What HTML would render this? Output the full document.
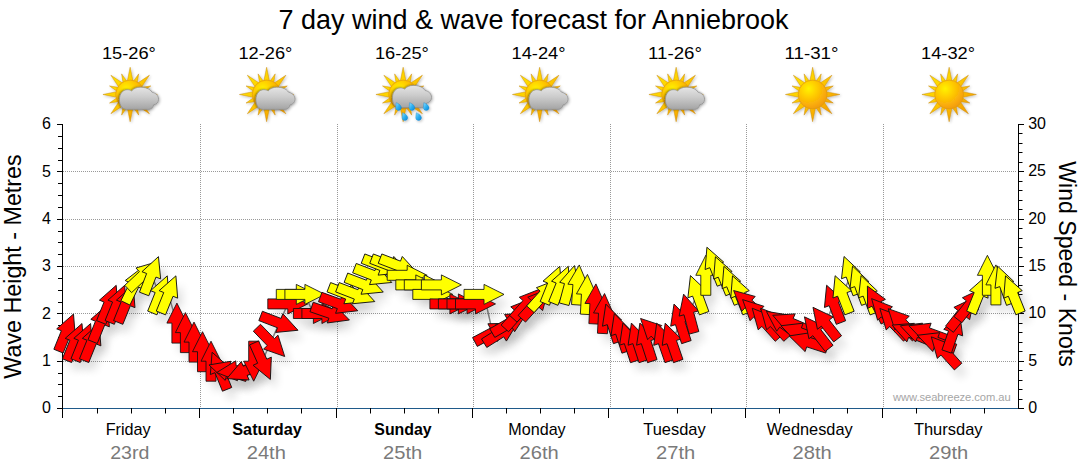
<!DOCTYPE html><html><head><meta charset="utf-8"><title>7 day wind &amp; wave forecast</title>
<style>html,body{margin:0;padding:0;background:#fff}body{width:1080px;height:475px;overflow:hidden;font-family:"Liberation Sans",sans-serif}svg{display:block}text{font-family:"Liberation Sans",sans-serif}</style></head><body>
<svg width="1080" height="475" viewBox="0 0 1080 475">
<defs><filter id="sh" x="-100%" y="-100%" width="300%" height="300%"><feGaussianBlur in="SourceAlpha" stdDeviation="4"/><feOffset dx="6" dy="9"/><feComponentTransfer><feFuncA type="linear" slope="0.11"/></feComponentTransfer></filter></defs>
<rect width="1080" height="475" fill="#fff"/>
<text x="278.5" y="29.2" font-size="27.3" fill="#000" textLength="510" lengthAdjust="spacingAndGlyphs">7 day wind &amp; wave forecast for Anniebrook</text>
<text x="101.9" y="59" font-size="16" fill="#000" textLength="54" lengthAdjust="spacingAndGlyphs">15-26°</text>
<text x="238.4" y="59" font-size="16" fill="#000" textLength="54" lengthAdjust="spacingAndGlyphs">12-26°</text>
<text x="374.9" y="59" font-size="16" fill="#000" textLength="54" lengthAdjust="spacingAndGlyphs">16-25°</text>
<text x="511.5" y="59" font-size="16" fill="#000" textLength="54" lengthAdjust="spacingAndGlyphs">14-24°</text>
<text x="648.0" y="59" font-size="16" fill="#000" textLength="54" lengthAdjust="spacingAndGlyphs">11-26°</text>
<text x="784.5" y="59" font-size="16" fill="#000" textLength="54" lengthAdjust="spacingAndGlyphs">11-31°</text>
<text x="921.0" y="59" font-size="16" fill="#000" textLength="54" lengthAdjust="spacingAndGlyphs">14-32°</text>
<defs>
<radialGradient id="sd" cx="0.36" cy="0.3" r="0.75"><stop offset="0" stop-color="#fff200"/><stop offset="0.35" stop-color="#ffd000"/><stop offset="0.8" stop-color="#f9a80a"/><stop offset="1" stop-color="#ee9a10"/></radialGradient>
<linearGradient id="sr" gradientUnits="userSpaceOnUse" x1="-20" y1="-20" x2="20" y2="20"><stop offset="0" stop-color="#ffe600"/><stop offset="0.5" stop-color="#fdc400"/><stop offset="1" stop-color="#f39a00"/></linearGradient>
<linearGradient id="cl" gradientUnits="userSpaceOnUse" x1="0" y1="-8" x2="0" y2="15"><stop offset="0" stop-color="#e6e6e6"/><stop offset="0.45" stop-color="#cccccc"/><stop offset="1" stop-color="#a4a4a4"/></linearGradient>
<linearGradient id="dr" x1="0" y1="0" x2="1" y2="1"><stop offset="0" stop-color="#8fe0ff"/><stop offset="0.5" stop-color="#2fb0f0"/><stop offset="1" stop-color="#0a86d8"/></linearGradient>
<filter id="ish" x="-30%" y="-30%" width="160%" height="160%"><feGaussianBlur in="SourceAlpha" stdDeviation="1.6"/><feOffset dx="0.8" dy="1"/><feComponentTransfer><feFuncA type="linear" slope="0.28"/></feComponentTransfer><feMerge><feMergeNode/><feMergeNode in="SourceGraphic"/></feMerge></filter>
<filter id="csh" x="-30%" y="-30%" width="160%" height="160%"><feGaussianBlur in="SourceAlpha" stdDeviation="1.1"/><feOffset dx="-0.7" dy="0.2"/><feComponentTransfer><feFuncA type="linear" slope="0.45"/></feComponentTransfer><feMerge><feMergeNode/><feMergeNode in="SourceGraphic"/></feMerge></filter>
<g id="sun">
<path fill="url(#sr)" stroke="#c98a10" stroke-width="0.5" stroke-linejoin="round" d="M-3.09,-12.11 L0.00,-27.20 L3.09,-12.11 Z M2.52,-12.24 L8.53,-20.60 L6.88,-10.44 Z M6.38,-10.75 L19.23,-19.23 L10.75,-6.38 Z M10.44,-6.88 L20.60,-8.53 L12.24,-2.52 Z M12.11,-3.09 L27.20,0.00 L12.11,3.09 Z M12.24,2.52 L20.60,8.53 L10.44,6.88 Z M10.75,6.38 L19.23,19.23 L6.38,10.75 Z M6.88,10.44 L8.53,20.60 L2.52,12.24 Z M3.09,12.11 L0.00,27.20 L-3.09,12.11 Z M-2.52,12.24 L-8.53,20.60 L-6.88,10.44 Z M-6.38,10.75 L-19.23,19.23 L-10.75,6.38 Z M-10.44,6.88 L-20.60,8.53 L-12.24,2.52 Z M-12.11,3.09 L-27.20,0.00 L-12.11,-3.09 Z M-12.24,-2.52 L-20.60,-8.53 L-10.44,-6.88 Z M-10.75,-6.38 L-19.23,-19.23 L-6.38,-10.75 Z M-6.88,-10.44 L-8.53,-20.60 L-2.52,-12.24 Z"/>
<circle r="14.4" fill="url(#sd)" stroke="#e09a10" stroke-width="0.7"/>
</g>
<path id="cloud" fill="url(#cl)" stroke="#8e8e8e" stroke-width="0.7" d="M-3,14.9 C-8,14.9 -10.7,11 -10.7,5 C-10.7,-1 -7,-4.8 -3,-4.8 C-1,-4.8 0.5,-4.3 1.5,-3.6 C3.5,-6 6.5,-7.3 10,-7.3 C15,-7.3 19.5,-6 22,-2.2 C25.5,-1.5 28.4,1 28.4,4.8 C28.4,8 26,10 23.5,10.3 C23,13 21,14.9 18.5,14.9 Z"/>
<path id="drop" fill="url(#dr)" stroke="#0b7fcc" stroke-width="0.4" d="M-2.6,-4 C-0.5,-3.6 3.2,-0.8 3.2,1.6 C3.2,3.4 1.8,4.6 0.1,4.6 C-1.9,4.6 -3.2,3.2 -3.1,1.2 C-3.0,-0.6 -2.8,-2.4 -2.6,-4 Z"/>
</defs>
<g transform="translate(130.15,94.50)" filter="url(#ish)"><use href="#sun"/><g filter="url(#csh)"><use href="#cloud" transform="translate(0,0)"/></g></g>
<g transform="translate(266.65,94.50)" filter="url(#ish)"><use href="#sun"/><g filter="url(#csh)"><use href="#cloud" transform="translate(0,0)"/></g></g>
<g transform="translate(403.15,94.50)" filter="url(#ish)"><use href="#sun"/><g filter="url(#csh)"><use href="#cloud" transform="translate(0,-1.8)"/></g><use href="#drop" transform="translate(-4.6,11.8) scale(0.9)"/><use href="#drop" transform="translate(8.8,11.8) scale(0.9)"/><use href="#drop" transform="translate(23.0,11.8) scale(0.9)"/><use href="#drop" transform="translate(1.7,21.8) scale(0.9)"/><use href="#drop" transform="translate(15.4,21.8) scale(0.9)"/></g>
<g transform="translate(539.65,94.50)" filter="url(#ish)"><use href="#sun"/><g filter="url(#csh)"><use href="#cloud" transform="translate(0,0)"/></g></g>
<g transform="translate(676.15,94.50)" filter="url(#ish)"><use href="#sun"/><g filter="url(#csh)"><use href="#cloud" transform="translate(0,0)"/></g></g>
<g transform="translate(812.65,94.50)" filter="url(#ish)"><use href="#sun"/></g>
<g transform="translate(949.15,94.50)" filter="url(#ish)"><use href="#sun"/></g>
<line x1="63" x2="1016" y1="361.5" y2="361.5" stroke="#999" stroke-width="1" stroke-dasharray="1 1"/>
<line x1="63" x2="1016" y1="313.5" y2="313.5" stroke="#999" stroke-width="1" stroke-dasharray="1 1"/>
<line x1="63" x2="1016" y1="266.5" y2="266.5" stroke="#999" stroke-width="1" stroke-dasharray="1 1"/>
<line x1="63" x2="1016" y1="219.5" y2="219.5" stroke="#999" stroke-width="1" stroke-dasharray="1 1"/>
<line x1="63" x2="1016" y1="171.5" y2="171.5" stroke="#999" stroke-width="1" stroke-dasharray="1 1"/>
<line x1="200.5" x2="200.5" y1="124" y2="408" stroke="#999" stroke-width="1" stroke-dasharray="1 1"/>
<line x1="337.5" x2="337.5" y1="124" y2="408" stroke="#999" stroke-width="1" stroke-dasharray="1 1"/>
<line x1="473.5" x2="473.5" y1="124" y2="408" stroke="#999" stroke-width="1" stroke-dasharray="1 1"/>
<line x1="610.5" x2="610.5" y1="124" y2="408" stroke="#999" stroke-width="1" stroke-dasharray="1 1"/>
<line x1="746.5" x2="746.5" y1="124" y2="408" stroke="#999" stroke-width="1" stroke-dasharray="1 1"/>
<line x1="883.5" x2="883.5" y1="124" y2="408" stroke="#999" stroke-width="1" stroke-dasharray="1 1"/>
<line x1="62.5" x2="62.5" y1="124" y2="409" stroke="#000" stroke-width="1"/>
<line x1="1018.5" x2="1018.5" y1="124" y2="409" stroke="#000" stroke-width="1"/>
<line x1="62" x2="1019" y1="408.5" y2="408.5" stroke="#1f5a8a" stroke-width="1.2"/>
<line x1="57" x2="63" y1="408.5" y2="408.5" stroke="#000" stroke-width="1"/>
<line x1="58" x2="63" y1="396.5" y2="396.5" stroke="#000" stroke-width="1"/>
<line x1="58" x2="63" y1="384.5" y2="384.5" stroke="#000" stroke-width="1"/>
<line x1="58" x2="63" y1="373.5" y2="373.5" stroke="#000" stroke-width="1"/>
<line x1="57" x2="63" y1="361.5" y2="361.5" stroke="#000" stroke-width="1"/>
<line x1="58" x2="63" y1="349.5" y2="349.5" stroke="#000" stroke-width="1"/>
<line x1="58" x2="63" y1="337.5" y2="337.5" stroke="#000" stroke-width="1"/>
<line x1="58" x2="63" y1="325.5" y2="325.5" stroke="#000" stroke-width="1"/>
<line x1="57" x2="63" y1="313.5" y2="313.5" stroke="#000" stroke-width="1"/>
<line x1="58" x2="63" y1="302.5" y2="302.5" stroke="#000" stroke-width="1"/>
<line x1="58" x2="63" y1="290.5" y2="290.5" stroke="#000" stroke-width="1"/>
<line x1="58" x2="63" y1="278.5" y2="278.5" stroke="#000" stroke-width="1"/>
<line x1="57" x2="63" y1="266.5" y2="266.5" stroke="#000" stroke-width="1"/>
<line x1="58" x2="63" y1="254.5" y2="254.5" stroke="#000" stroke-width="1"/>
<line x1="58" x2="63" y1="242.5" y2="242.5" stroke="#000" stroke-width="1"/>
<line x1="58" x2="63" y1="231.5" y2="231.5" stroke="#000" stroke-width="1"/>
<line x1="57" x2="63" y1="219.5" y2="219.5" stroke="#000" stroke-width="1"/>
<line x1="58" x2="63" y1="207.5" y2="207.5" stroke="#000" stroke-width="1"/>
<line x1="58" x2="63" y1="195.5" y2="195.5" stroke="#000" stroke-width="1"/>
<line x1="58" x2="63" y1="183.5" y2="183.5" stroke="#000" stroke-width="1"/>
<line x1="57" x2="63" y1="171.5" y2="171.5" stroke="#000" stroke-width="1"/>
<line x1="58" x2="63" y1="160.5" y2="160.5" stroke="#000" stroke-width="1"/>
<line x1="58" x2="63" y1="148.5" y2="148.5" stroke="#000" stroke-width="1"/>
<line x1="58" x2="63" y1="136.5" y2="136.5" stroke="#000" stroke-width="1"/>
<line x1="57" x2="63" y1="124.5" y2="124.5" stroke="#000" stroke-width="1"/>
<text x="51" y="413.2" font-size="16" text-anchor="end" fill="#000">0</text>
<text x="51" y="365.9" font-size="16" text-anchor="end" fill="#000">1</text>
<text x="51" y="318.5" font-size="16" text-anchor="end" fill="#000">2</text>
<text x="51" y="271.2" font-size="16" text-anchor="end" fill="#000">3</text>
<text x="51" y="223.9" font-size="16" text-anchor="end" fill="#000">4</text>
<text x="51" y="176.5" font-size="16" text-anchor="end" fill="#000">5</text>
<text x="51" y="129.2" font-size="16" text-anchor="end" fill="#000">6</text>
<line x1="1018" x2="1024" y1="408.5" y2="408.5" stroke="#000" stroke-width="1"/>
<line x1="1018" x2="1022.5" y1="399.5" y2="399.5" stroke="#000" stroke-width="1"/>
<line x1="1018" x2="1022.5" y1="389.5" y2="389.5" stroke="#000" stroke-width="1"/>
<line x1="1018" x2="1022.5" y1="380.5" y2="380.5" stroke="#000" stroke-width="1"/>
<line x1="1018" x2="1022.5" y1="370.5" y2="370.5" stroke="#000" stroke-width="1"/>
<line x1="1018" x2="1024" y1="361.5" y2="361.5" stroke="#000" stroke-width="1"/>
<line x1="1018" x2="1022.5" y1="351.5" y2="351.5" stroke="#000" stroke-width="1"/>
<line x1="1018" x2="1022.5" y1="342.5" y2="342.5" stroke="#000" stroke-width="1"/>
<line x1="1018" x2="1022.5" y1="332.5" y2="332.5" stroke="#000" stroke-width="1"/>
<line x1="1018" x2="1022.5" y1="323.5" y2="323.5" stroke="#000" stroke-width="1"/>
<line x1="1018" x2="1024" y1="313.5" y2="313.5" stroke="#000" stroke-width="1"/>
<line x1="1018" x2="1022.5" y1="304.5" y2="304.5" stroke="#000" stroke-width="1"/>
<line x1="1018" x2="1022.5" y1="294.5" y2="294.5" stroke="#000" stroke-width="1"/>
<line x1="1018" x2="1022.5" y1="285.5" y2="285.5" stroke="#000" stroke-width="1"/>
<line x1="1018" x2="1022.5" y1="275.5" y2="275.5" stroke="#000" stroke-width="1"/>
<line x1="1018" x2="1024" y1="266.5" y2="266.5" stroke="#000" stroke-width="1"/>
<line x1="1018" x2="1022.5" y1="257.5" y2="257.5" stroke="#000" stroke-width="1"/>
<line x1="1018" x2="1022.5" y1="247.5" y2="247.5" stroke="#000" stroke-width="1"/>
<line x1="1018" x2="1022.5" y1="238.5" y2="238.5" stroke="#000" stroke-width="1"/>
<line x1="1018" x2="1022.5" y1="228.5" y2="228.5" stroke="#000" stroke-width="1"/>
<line x1="1018" x2="1024" y1="219.5" y2="219.5" stroke="#000" stroke-width="1"/>
<line x1="1018" x2="1022.5" y1="209.5" y2="209.5" stroke="#000" stroke-width="1"/>
<line x1="1018" x2="1022.5" y1="200.5" y2="200.5" stroke="#000" stroke-width="1"/>
<line x1="1018" x2="1022.5" y1="190.5" y2="190.5" stroke="#000" stroke-width="1"/>
<line x1="1018" x2="1022.5" y1="181.5" y2="181.5" stroke="#000" stroke-width="1"/>
<line x1="1018" x2="1024" y1="171.5" y2="171.5" stroke="#000" stroke-width="1"/>
<line x1="1018" x2="1022.5" y1="162.5" y2="162.5" stroke="#000" stroke-width="1"/>
<line x1="1018" x2="1022.5" y1="152.5" y2="152.5" stroke="#000" stroke-width="1"/>
<line x1="1018" x2="1022.5" y1="143.5" y2="143.5" stroke="#000" stroke-width="1"/>
<line x1="1018" x2="1022.5" y1="133.5" y2="133.5" stroke="#000" stroke-width="1"/>
<line x1="1018" x2="1024" y1="124.5" y2="124.5" stroke="#000" stroke-width="1"/>
<text x="1028.2" y="413.0" font-size="16" fill="#000">0</text>
<text x="1028.2" y="365.7" font-size="16" fill="#000">5</text>
<text x="1028.2" y="318.3" font-size="16" fill="#000">10</text>
<text x="1028.2" y="271.0" font-size="16" fill="#000">15</text>
<text x="1028.2" y="223.7" font-size="16" fill="#000">20</text>
<text x="1028.2" y="176.3" font-size="16" fill="#000">25</text>
<text x="1028.2" y="129.0" font-size="16" fill="#000">30</text>
<polyline fill="none" stroke="#888" stroke-width="1.5" points="66.0,332.6 74.5,342.1 83.1,342.1 91.6,342.1 100.1,323.1 108.7,303.9 117.2,303.9 125.7,303.9 134.2,284.9 142.8,275.3 151.3,275.3 159.8,294.4 168.4,294.4 176.9,323.1 185.4,332.6 194.0,342.1 202.5,351.7 211.0,361.2 219.6,370.8 228.1,370.8 236.6,370.8 245.2,370.8 253.7,361.2 262.2,361.2 270.8,342.1 279.3,323.1 287.8,303.9 296.3,294.4 304.9,294.4 313.4,313.5 321.9,313.5 330.5,313.5 339.0,303.9 347.5,294.4 356.1,294.4 364.6,284.9 373.1,275.3 381.7,265.8 390.2,265.8 398.7,265.8 407.2,275.3 415.8,284.9 424.3,284.9 432.8,294.4 441.4,284.9 449.9,303.9 458.4,303.9 467.0,303.9 475.5,303.9 484.0,294.4 492.6,332.6 501.1,332.6 509.6,323.1 518.2,313.5 526.7,303.9 535.2,303.9 543.8,294.4 552.3,284.9 560.8,284.9 569.3,284.9 577.9,284.9 586.4,294.4 594.9,303.9 603.5,313.5 612.0,323.1 620.5,332.6 629.1,342.1 637.6,342.1 646.1,342.1 654.7,332.6 663.2,342.1 671.7,342.1 680.2,323.1 688.8,313.5 697.3,294.4 705.8,275.3 714.4,265.8 722.9,275.3 731.4,284.9 740.0,294.4 748.5,303.9 757.0,313.5 765.6,323.1 774.1,323.1 782.6,323.1 791.2,323.1 799.7,332.6 808.2,342.1 816.8,332.6 825.3,323.1 833.8,303.9 842.3,294.4 850.9,275.3 859.4,284.9 867.9,294.4 876.5,303.9 885.0,313.5 893.5,323.1 902.1,323.1 910.6,332.6 919.1,332.6 927.7,332.6 936.2,342.1 944.7,351.7 953.2,332.6 961.8,313.5 970.3,303.9 978.8,294.4 987.4,275.3 995.9,284.9 1004.4,284.9 1013.0,294.4"/>
<defs><path id="ar" d="M-20,-5 L0,-5 L0,-10 L20,0 L0,10 L0,5 L-20,5 Z"/></defs>
<g fill="#000">
<g filter="url(#sh)"><use href="#ar" transform="translate(66.0,332.6) rotate(-68)"/></g>
<g filter="url(#sh)"><use href="#ar" transform="translate(74.5,342.1) rotate(-68)"/></g>
<g filter="url(#sh)"><use href="#ar" transform="translate(83.1,342.1) rotate(-68)"/></g>
<g filter="url(#sh)"><use href="#ar" transform="translate(91.6,342.1) rotate(-68)"/></g>
<g filter="url(#sh)"><use href="#ar" transform="translate(100.1,323.1) rotate(-68)"/></g>
<g filter="url(#sh)"><use href="#ar" transform="translate(108.7,303.9) rotate(-68)"/></g>
<g filter="url(#sh)"><use href="#ar" transform="translate(117.2,303.9) rotate(-68)"/></g>
<g filter="url(#sh)"><use href="#ar" transform="translate(125.7,303.9) rotate(-68)"/></g>
<g filter="url(#sh)"><use href="#ar" transform="translate(134.2,284.9) rotate(-64)"/></g>
<g filter="url(#sh)"><use href="#ar" transform="translate(142.8,275.3) rotate(-43)"/></g>
<g filter="url(#sh)"><use href="#ar" transform="translate(151.3,275.3) rotate(-69)"/></g>
<g filter="url(#sh)"><use href="#ar" transform="translate(159.8,294.4) rotate(-68)"/></g>
<g filter="url(#sh)"><use href="#ar" transform="translate(168.4,294.4) rotate(-68)"/></g>
<g filter="url(#sh)"><use href="#ar" transform="translate(176.9,323.1) rotate(-90)"/></g>
<g filter="url(#sh)"><use href="#ar" transform="translate(185.4,332.6) rotate(-90)"/></g>
<g filter="url(#sh)"><use href="#ar" transform="translate(194.0,342.1) rotate(-90)"/></g>
<g filter="url(#sh)"><use href="#ar" transform="translate(202.5,351.7) rotate(-90)"/></g>
<g filter="url(#sh)"><use href="#ar" transform="translate(211.0,361.2) rotate(-90)"/></g>
<g filter="url(#sh)"><use href="#ar" transform="translate(219.6,370.8) rotate(-112)"/></g>
<g filter="url(#sh)"><use href="#ar" transform="translate(228.1,370.8) rotate(-163)"/></g>
<g filter="url(#sh)"><use href="#ar" transform="translate(236.6,370.8) rotate(-185)"/></g>
<g filter="url(#sh)"><use href="#ar" transform="translate(245.2,370.8) rotate(-203)"/></g>
<g filter="url(#sh)"><use href="#ar" transform="translate(253.7,361.2) rotate(90)"/></g>
<g filter="url(#sh)"><use href="#ar" transform="translate(262.2,361.2) rotate(66)"/></g>
<g filter="url(#sh)"><use href="#ar" transform="translate(270.8,342.1) rotate(46)"/></g>
<g filter="url(#sh)"><use href="#ar" transform="translate(279.3,323.1) rotate(21)"/></g>
<g filter="url(#sh)"><use href="#ar" transform="translate(287.8,303.9) rotate(0)"/></g>
<g filter="url(#sh)"><use href="#ar" transform="translate(296.3,294.4) rotate(0)"/></g>
<g filter="url(#sh)"><use href="#ar" transform="translate(304.9,294.4) rotate(0)"/></g>
<g filter="url(#sh)"><use href="#ar" transform="translate(313.4,313.5) rotate(0)"/></g>
<g filter="url(#sh)"><use href="#ar" transform="translate(321.9,313.5) rotate(0)"/></g>
<g filter="url(#sh)"><use href="#ar" transform="translate(330.5,313.5) rotate(19)"/></g>
<g filter="url(#sh)"><use href="#ar" transform="translate(339.0,303.9) rotate(20)"/></g>
<g filter="url(#sh)"><use href="#ar" transform="translate(347.5,294.4) rotate(21)"/></g>
<g filter="url(#sh)"><use href="#ar" transform="translate(356.1,294.4) rotate(21)"/></g>
<g filter="url(#sh)"><use href="#ar" transform="translate(364.6,284.9) rotate(21)"/></g>
<g filter="url(#sh)"><use href="#ar" transform="translate(373.1,275.3) rotate(21)"/></g>
<g filter="url(#sh)"><use href="#ar" transform="translate(381.7,265.8) rotate(21)"/></g>
<g filter="url(#sh)"><use href="#ar" transform="translate(390.2,265.8) rotate(21)"/></g>
<g filter="url(#sh)"><use href="#ar" transform="translate(398.7,265.8) rotate(21)"/></g>
<g filter="url(#sh)"><use href="#ar" transform="translate(407.2,275.3) rotate(0)"/></g>
<g filter="url(#sh)"><use href="#ar" transform="translate(415.8,284.9) rotate(0)"/></g>
<g filter="url(#sh)"><use href="#ar" transform="translate(424.3,284.9) rotate(0)"/></g>
<g filter="url(#sh)"><use href="#ar" transform="translate(432.8,294.4) rotate(0)"/></g>
<g filter="url(#sh)"><use href="#ar" transform="translate(441.4,284.9) rotate(0)"/></g>
<g filter="url(#sh)"><use href="#ar" transform="translate(449.9,303.9) rotate(0)"/></g>
<g filter="url(#sh)"><use href="#ar" transform="translate(458.4,303.9) rotate(0)"/></g>
<g filter="url(#sh)"><use href="#ar" transform="translate(467.0,303.9) rotate(0)"/></g>
<g filter="url(#sh)"><use href="#ar" transform="translate(475.5,303.9) rotate(0)"/></g>
<g filter="url(#sh)"><use href="#ar" transform="translate(484.0,294.4) rotate(0)"/></g>
<g filter="url(#sh)"><use href="#ar" transform="translate(492.6,332.6) rotate(-28)"/></g>
<g filter="url(#sh)"><use href="#ar" transform="translate(501.1,332.6) rotate(-32)"/></g>
<g filter="url(#sh)"><use href="#ar" transform="translate(509.6,323.1) rotate(-30)"/></g>
<g filter="url(#sh)"><use href="#ar" transform="translate(518.2,313.5) rotate(-48)"/></g>
<g filter="url(#sh)"><use href="#ar" transform="translate(526.7,303.9) rotate(-48)"/></g>
<g filter="url(#sh)"><use href="#ar" transform="translate(535.2,303.9) rotate(-48)"/></g>
<g filter="url(#sh)"><use href="#ar" transform="translate(543.8,294.4) rotate(-48)"/></g>
<g filter="url(#sh)"><use href="#ar" transform="translate(552.3,284.9) rotate(-68)"/></g>
<g filter="url(#sh)"><use href="#ar" transform="translate(560.8,284.9) rotate(-68)"/></g>
<g filter="url(#sh)"><use href="#ar" transform="translate(569.3,284.9) rotate(-75)"/></g>
<g filter="url(#sh)"><use href="#ar" transform="translate(577.9,284.9) rotate(-86)"/></g>
<g filter="url(#sh)"><use href="#ar" transform="translate(586.4,294.4) rotate(-87)"/></g>
<g filter="url(#sh)"><use href="#ar" transform="translate(594.9,303.9) rotate(-87)"/></g>
<g filter="url(#sh)"><use href="#ar" transform="translate(603.5,313.5) rotate(-87)"/></g>
<g filter="url(#sh)"><use href="#ar" transform="translate(612.0,323.1) rotate(-108)"/></g>
<g filter="url(#sh)"><use href="#ar" transform="translate(620.5,332.6) rotate(-108)"/></g>
<g filter="url(#sh)"><use href="#ar" transform="translate(629.1,342.1) rotate(-108)"/></g>
<g filter="url(#sh)"><use href="#ar" transform="translate(637.6,342.1) rotate(-108)"/></g>
<g filter="url(#sh)"><use href="#ar" transform="translate(646.1,342.1) rotate(-108)"/></g>
<g filter="url(#sh)"><use href="#ar" transform="translate(654.7,332.6) rotate(-135)"/></g>
<g filter="url(#sh)"><use href="#ar" transform="translate(663.2,342.1) rotate(-109)"/></g>
<g filter="url(#sh)"><use href="#ar" transform="translate(671.7,342.1) rotate(-109)"/></g>
<g filter="url(#sh)"><use href="#ar" transform="translate(680.2,323.1) rotate(-108)"/></g>
<g filter="url(#sh)"><use href="#ar" transform="translate(688.8,313.5) rotate(-105)"/></g>
<g filter="url(#sh)"><use href="#ar" transform="translate(697.3,294.4) rotate(-110)"/></g>
<g filter="url(#sh)"><use href="#ar" transform="translate(705.8,275.3) rotate(-90)"/></g>
<g filter="url(#sh)"><use href="#ar" transform="translate(714.4,265.8) rotate(-112)"/></g>
<g filter="url(#sh)"><use href="#ar" transform="translate(722.9,275.3) rotate(-112)"/></g>
<g filter="url(#sh)"><use href="#ar" transform="translate(731.4,284.9) rotate(-112)"/></g>
<g filter="url(#sh)"><use href="#ar" transform="translate(740.0,294.4) rotate(-112)"/></g>
<g filter="url(#sh)"><use href="#ar" transform="translate(748.5,303.9) rotate(-138)"/></g>
<g filter="url(#sh)"><use href="#ar" transform="translate(757.0,313.5) rotate(-136)"/></g>
<g filter="url(#sh)"><use href="#ar" transform="translate(765.6,323.1) rotate(-132)"/></g>
<g filter="url(#sh)"><use href="#ar" transform="translate(774.1,323.1) rotate(-132)"/></g>
<g filter="url(#sh)"><use href="#ar" transform="translate(782.6,323.1) rotate(-144)"/></g>
<g filter="url(#sh)"><use href="#ar" transform="translate(791.2,323.1) rotate(-157)"/></g>
<g filter="url(#sh)"><use href="#ar" transform="translate(799.7,332.6) rotate(-160)"/></g>
<g filter="url(#sh)"><use href="#ar" transform="translate(808.2,342.1) rotate(-162)"/></g>
<g filter="url(#sh)"><use href="#ar" transform="translate(816.8,332.6) rotate(-128)"/></g>
<g filter="url(#sh)"><use href="#ar" transform="translate(825.3,323.1) rotate(-128)"/></g>
<g filter="url(#sh)"><use href="#ar" transform="translate(833.8,303.9) rotate(-111)"/></g>
<g filter="url(#sh)"><use href="#ar" transform="translate(842.3,294.4) rotate(-111)"/></g>
<g filter="url(#sh)"><use href="#ar" transform="translate(850.9,275.3) rotate(-110)"/></g>
<g filter="url(#sh)"><use href="#ar" transform="translate(859.4,284.9) rotate(-110)"/></g>
<g filter="url(#sh)"><use href="#ar" transform="translate(867.9,294.4) rotate(-110)"/></g>
<g filter="url(#sh)"><use href="#ar" transform="translate(876.5,303.9) rotate(-117)"/></g>
<g filter="url(#sh)"><use href="#ar" transform="translate(885.0,313.5) rotate(-132)"/></g>
<g filter="url(#sh)"><use href="#ar" transform="translate(893.5,323.1) rotate(-133)"/></g>
<g filter="url(#sh)"><use href="#ar" transform="translate(902.1,323.1) rotate(-134)"/></g>
<g filter="url(#sh)"><use href="#ar" transform="translate(910.6,332.6) rotate(-158)"/></g>
<g filter="url(#sh)"><use href="#ar" transform="translate(919.1,332.6) rotate(-160)"/></g>
<g filter="url(#sh)"><use href="#ar" transform="translate(927.7,332.6) rotate(-160)"/></g>
<g filter="url(#sh)"><use href="#ar" transform="translate(936.2,342.1) rotate(-160)"/></g>
<g filter="url(#sh)"><use href="#ar" transform="translate(944.7,351.7) rotate(-132)"/></g>
<g filter="url(#sh)"><use href="#ar" transform="translate(953.2,332.6) rotate(-71)"/></g>
<g filter="url(#sh)"><use href="#ar" transform="translate(961.8,313.5) rotate(-52)"/></g>
<g filter="url(#sh)"><use href="#ar" transform="translate(970.3,303.9) rotate(-52)"/></g>
<g filter="url(#sh)"><use href="#ar" transform="translate(978.8,294.4) rotate(-68)"/></g>
<g filter="url(#sh)"><use href="#ar" transform="translate(987.4,275.3) rotate(-90)"/></g>
<g filter="url(#sh)"><use href="#ar" transform="translate(995.9,284.9) rotate(-90)"/></g>
<g filter="url(#sh)"><use href="#ar" transform="translate(1004.4,284.9) rotate(-110)"/></g>
<g filter="url(#sh)"><use href="#ar" transform="translate(1013.0,294.4) rotate(-112)"/></g>
</g>
<g stroke="#111" stroke-width="0.85" stroke-linejoin="miter">
<use href="#ar" fill="#f00" transform="translate(66.0,332.6) rotate(-68)"/>
<use href="#ar" fill="#f00" transform="translate(74.5,342.1) rotate(-68)"/>
<use href="#ar" fill="#f00" transform="translate(83.1,342.1) rotate(-68)"/>
<use href="#ar" fill="#f00" transform="translate(91.6,342.1) rotate(-68)"/>
<use href="#ar" fill="#f00" transform="translate(100.1,323.1) rotate(-68)"/>
<use href="#ar" fill="#f00" transform="translate(108.7,303.9) rotate(-68)"/>
<use href="#ar" fill="#f00" transform="translate(117.2,303.9) rotate(-68)"/>
<use href="#ar" fill="#f00" transform="translate(125.7,303.9) rotate(-68)"/>
<use href="#ar" fill="#ff0" transform="translate(134.2,284.9) rotate(-64)"/>
<use href="#ar" fill="#ff0" transform="translate(142.8,275.3) rotate(-43)"/>
<use href="#ar" fill="#ff0" transform="translate(151.3,275.3) rotate(-69)"/>
<use href="#ar" fill="#ff0" transform="translate(159.8,294.4) rotate(-68)"/>
<use href="#ar" fill="#ff0" transform="translate(168.4,294.4) rotate(-68)"/>
<use href="#ar" fill="#f00" transform="translate(176.9,323.1) rotate(-90)"/>
<use href="#ar" fill="#f00" transform="translate(185.4,332.6) rotate(-90)"/>
<use href="#ar" fill="#f00" transform="translate(194.0,342.1) rotate(-90)"/>
<use href="#ar" fill="#f00" transform="translate(202.5,351.7) rotate(-90)"/>
<use href="#ar" fill="#f00" transform="translate(211.0,361.2) rotate(-90)"/>
<use href="#ar" fill="#f00" transform="translate(219.6,370.8) rotate(-112)"/>
<use href="#ar" fill="#f00" transform="translate(228.1,370.8) rotate(-163)"/>
<use href="#ar" fill="#f00" transform="translate(236.6,370.8) rotate(-185)"/>
<use href="#ar" fill="#f00" transform="translate(245.2,370.8) rotate(-203)"/>
<use href="#ar" fill="#f00" transform="translate(253.7,361.2) rotate(90)"/>
<use href="#ar" fill="#f00" transform="translate(262.2,361.2) rotate(66)"/>
<use href="#ar" fill="#f00" transform="translate(270.8,342.1) rotate(46)"/>
<use href="#ar" fill="#f00" transform="translate(279.3,323.1) rotate(21)"/>
<use href="#ar" fill="#f00" transform="translate(287.8,303.9) rotate(0)"/>
<use href="#ar" fill="#ff0" transform="translate(296.3,294.4) rotate(0)"/>
<use href="#ar" fill="#ff0" transform="translate(304.9,294.4) rotate(0)"/>
<use href="#ar" fill="#f00" transform="translate(313.4,313.5) rotate(0)"/>
<use href="#ar" fill="#f00" transform="translate(321.9,313.5) rotate(0)"/>
<use href="#ar" fill="#f00" transform="translate(330.5,313.5) rotate(19)"/>
<use href="#ar" fill="#f00" transform="translate(339.0,303.9) rotate(20)"/>
<use href="#ar" fill="#ff0" transform="translate(347.5,294.4) rotate(21)"/>
<use href="#ar" fill="#ff0" transform="translate(356.1,294.4) rotate(21)"/>
<use href="#ar" fill="#ff0" transform="translate(364.6,284.9) rotate(21)"/>
<use href="#ar" fill="#ff0" transform="translate(373.1,275.3) rotate(21)"/>
<use href="#ar" fill="#ff0" transform="translate(381.7,265.8) rotate(21)"/>
<use href="#ar" fill="#ff0" transform="translate(390.2,265.8) rotate(21)"/>
<use href="#ar" fill="#ff0" transform="translate(398.7,265.8) rotate(21)"/>
<use href="#ar" fill="#ff0" transform="translate(407.2,275.3) rotate(0)"/>
<use href="#ar" fill="#ff0" transform="translate(415.8,284.9) rotate(0)"/>
<use href="#ar" fill="#ff0" transform="translate(424.3,284.9) rotate(0)"/>
<use href="#ar" fill="#ff0" transform="translate(432.8,294.4) rotate(0)"/>
<use href="#ar" fill="#ff0" transform="translate(441.4,284.9) rotate(0)"/>
<use href="#ar" fill="#f00" transform="translate(449.9,303.9) rotate(0)"/>
<use href="#ar" fill="#f00" transform="translate(458.4,303.9) rotate(0)"/>
<use href="#ar" fill="#f00" transform="translate(467.0,303.9) rotate(0)"/>
<use href="#ar" fill="#f00" transform="translate(475.5,303.9) rotate(0)"/>
<use href="#ar" fill="#ff0" transform="translate(484.0,294.4) rotate(0)"/>
<use href="#ar" fill="#f00" transform="translate(492.6,332.6) rotate(-28)"/>
<use href="#ar" fill="#f00" transform="translate(501.1,332.6) rotate(-32)"/>
<use href="#ar" fill="#f00" transform="translate(509.6,323.1) rotate(-30)"/>
<use href="#ar" fill="#f00" transform="translate(518.2,313.5) rotate(-48)"/>
<use href="#ar" fill="#f00" transform="translate(526.7,303.9) rotate(-48)"/>
<use href="#ar" fill="#f00" transform="translate(535.2,303.9) rotate(-48)"/>
<use href="#ar" fill="#ff0" transform="translate(543.8,294.4) rotate(-48)"/>
<use href="#ar" fill="#ff0" transform="translate(552.3,284.9) rotate(-68)"/>
<use href="#ar" fill="#ff0" transform="translate(560.8,284.9) rotate(-68)"/>
<use href="#ar" fill="#ff0" transform="translate(569.3,284.9) rotate(-75)"/>
<use href="#ar" fill="#ff0" transform="translate(577.9,284.9) rotate(-86)"/>
<use href="#ar" fill="#ff0" transform="translate(586.4,294.4) rotate(-87)"/>
<use href="#ar" fill="#f00" transform="translate(594.9,303.9) rotate(-87)"/>
<use href="#ar" fill="#f00" transform="translate(603.5,313.5) rotate(-87)"/>
<use href="#ar" fill="#f00" transform="translate(612.0,323.1) rotate(-108)"/>
<use href="#ar" fill="#f00" transform="translate(620.5,332.6) rotate(-108)"/>
<use href="#ar" fill="#f00" transform="translate(629.1,342.1) rotate(-108)"/>
<use href="#ar" fill="#f00" transform="translate(637.6,342.1) rotate(-108)"/>
<use href="#ar" fill="#f00" transform="translate(646.1,342.1) rotate(-108)"/>
<use href="#ar" fill="#f00" transform="translate(654.7,332.6) rotate(-135)"/>
<use href="#ar" fill="#f00" transform="translate(663.2,342.1) rotate(-109)"/>
<use href="#ar" fill="#f00" transform="translate(671.7,342.1) rotate(-109)"/>
<use href="#ar" fill="#f00" transform="translate(680.2,323.1) rotate(-108)"/>
<use href="#ar" fill="#f00" transform="translate(688.8,313.5) rotate(-105)"/>
<use href="#ar" fill="#ff0" transform="translate(697.3,294.4) rotate(-110)"/>
<use href="#ar" fill="#ff0" transform="translate(705.8,275.3) rotate(-90)"/>
<use href="#ar" fill="#ff0" transform="translate(714.4,265.8) rotate(-112)"/>
<use href="#ar" fill="#ff0" transform="translate(722.9,275.3) rotate(-112)"/>
<use href="#ar" fill="#ff0" transform="translate(731.4,284.9) rotate(-112)"/>
<use href="#ar" fill="#ff0" transform="translate(740.0,294.4) rotate(-112)"/>
<use href="#ar" fill="#f00" transform="translate(748.5,303.9) rotate(-138)"/>
<use href="#ar" fill="#f00" transform="translate(757.0,313.5) rotate(-136)"/>
<use href="#ar" fill="#f00" transform="translate(765.6,323.1) rotate(-132)"/>
<use href="#ar" fill="#f00" transform="translate(774.1,323.1) rotate(-132)"/>
<use href="#ar" fill="#f00" transform="translate(782.6,323.1) rotate(-144)"/>
<use href="#ar" fill="#f00" transform="translate(791.2,323.1) rotate(-157)"/>
<use href="#ar" fill="#f00" transform="translate(799.7,332.6) rotate(-160)"/>
<use href="#ar" fill="#f00" transform="translate(808.2,342.1) rotate(-162)"/>
<use href="#ar" fill="#f00" transform="translate(816.8,332.6) rotate(-128)"/>
<use href="#ar" fill="#f00" transform="translate(825.3,323.1) rotate(-128)"/>
<use href="#ar" fill="#f00" transform="translate(833.8,303.9) rotate(-111)"/>
<use href="#ar" fill="#ff0" transform="translate(842.3,294.4) rotate(-111)"/>
<use href="#ar" fill="#ff0" transform="translate(850.9,275.3) rotate(-110)"/>
<use href="#ar" fill="#ff0" transform="translate(859.4,284.9) rotate(-110)"/>
<use href="#ar" fill="#ff0" transform="translate(867.9,294.4) rotate(-110)"/>
<use href="#ar" fill="#f00" transform="translate(876.5,303.9) rotate(-117)"/>
<use href="#ar" fill="#f00" transform="translate(885.0,313.5) rotate(-132)"/>
<use href="#ar" fill="#f00" transform="translate(893.5,323.1) rotate(-133)"/>
<use href="#ar" fill="#f00" transform="translate(902.1,323.1) rotate(-134)"/>
<use href="#ar" fill="#f00" transform="translate(910.6,332.6) rotate(-158)"/>
<use href="#ar" fill="#f00" transform="translate(919.1,332.6) rotate(-160)"/>
<use href="#ar" fill="#f00" transform="translate(927.7,332.6) rotate(-160)"/>
<use href="#ar" fill="#f00" transform="translate(936.2,342.1) rotate(-160)"/>
<use href="#ar" fill="#f00" transform="translate(944.7,351.7) rotate(-132)"/>
<use href="#ar" fill="#f00" transform="translate(953.2,332.6) rotate(-71)"/>
<use href="#ar" fill="#f00" transform="translate(961.8,313.5) rotate(-52)"/>
<use href="#ar" fill="#f00" transform="translate(970.3,303.9) rotate(-52)"/>
<use href="#ar" fill="#ff0" transform="translate(978.8,294.4) rotate(-68)"/>
<use href="#ar" fill="#ff0" transform="translate(987.4,275.3) rotate(-90)"/>
<use href="#ar" fill="#ff0" transform="translate(995.9,284.9) rotate(-90)"/>
<use href="#ar" fill="#ff0" transform="translate(1004.4,284.9) rotate(-110)"/>
<use href="#ar" fill="#ff0" transform="translate(1013.0,294.4) rotate(-112)"/>
</g>
<line x1="62.5" x2="62.5" y1="408" y2="418" stroke="#000" stroke-width="1"/>
<line x1="97.5" x2="97.5" y1="408" y2="413.5" stroke="#000" stroke-width="1"/>
<line x1="131.5" x2="131.5" y1="408" y2="413.5" stroke="#000" stroke-width="1"/>
<line x1="165.5" x2="165.5" y1="408" y2="413.5" stroke="#000" stroke-width="1"/>
<line x1="199.5" x2="199.5" y1="408" y2="418" stroke="#000" stroke-width="1"/>
<line x1="233.5" x2="233.5" y1="408" y2="413.5" stroke="#000" stroke-width="1"/>
<line x1="267.5" x2="267.5" y1="408" y2="413.5" stroke="#000" stroke-width="1"/>
<line x1="301.5" x2="301.5" y1="408" y2="413.5" stroke="#000" stroke-width="1"/>
<line x1="336.5" x2="336.5" y1="408" y2="418" stroke="#000" stroke-width="1"/>
<line x1="370.5" x2="370.5" y1="408" y2="413.5" stroke="#000" stroke-width="1"/>
<line x1="404.5" x2="404.5" y1="408" y2="413.5" stroke="#000" stroke-width="1"/>
<line x1="438.5" x2="438.5" y1="408" y2="413.5" stroke="#000" stroke-width="1"/>
<line x1="472.5" x2="472.5" y1="408" y2="418" stroke="#000" stroke-width="1"/>
<line x1="506.5" x2="506.5" y1="408" y2="413.5" stroke="#000" stroke-width="1"/>
<line x1="540.5" x2="540.5" y1="408" y2="413.5" stroke="#000" stroke-width="1"/>
<line x1="574.5" x2="574.5" y1="408" y2="413.5" stroke="#000" stroke-width="1"/>
<line x1="608.5" x2="608.5" y1="408" y2="418" stroke="#000" stroke-width="1"/>
<line x1="643.5" x2="643.5" y1="408" y2="413.5" stroke="#000" stroke-width="1"/>
<line x1="677.5" x2="677.5" y1="408" y2="413.5" stroke="#000" stroke-width="1"/>
<line x1="711.5" x2="711.5" y1="408" y2="413.5" stroke="#000" stroke-width="1"/>
<line x1="745.5" x2="745.5" y1="408" y2="418" stroke="#000" stroke-width="1"/>
<line x1="779.5" x2="779.5" y1="408" y2="413.5" stroke="#000" stroke-width="1"/>
<line x1="813.5" x2="813.5" y1="408" y2="413.5" stroke="#000" stroke-width="1"/>
<line x1="847.5" x2="847.5" y1="408" y2="413.5" stroke="#000" stroke-width="1"/>
<line x1="882.5" x2="882.5" y1="408" y2="418" stroke="#000" stroke-width="1"/>
<line x1="916.5" x2="916.5" y1="408" y2="413.5" stroke="#000" stroke-width="1"/>
<line x1="950.5" x2="950.5" y1="408" y2="413.5" stroke="#000" stroke-width="1"/>
<line x1="984.5" x2="984.5" y1="408" y2="413.5" stroke="#000" stroke-width="1"/>
<text x="105.7" y="434.7" font-size="16.6" textLength="45" lengthAdjust="spacingAndGlyphs" fill="#000">Friday</text>
<text x="110.2" y="458.7" font-size="18.4" textLength="39.2" lengthAdjust="spacingAndGlyphs" fill="#7a7a7a">23rd</text>
<text x="232.3" y="434.7" font-size="16.6" textLength="69.4" lengthAdjust="spacingAndGlyphs" fill="#000" font-weight="bold">Saturday</text>
<text x="246.7" y="458.7" font-size="18.4" textLength="39.2" lengthAdjust="spacingAndGlyphs" fill="#7a7a7a">24th</text>
<text x="374.3" y="434.7" font-size="16.6" textLength="57.4" lengthAdjust="spacingAndGlyphs" fill="#000" font-weight="bold">Sunday</text>
<text x="383.1" y="458.7" font-size="18.4" textLength="39.2" lengthAdjust="spacingAndGlyphs" fill="#7a7a7a">25th</text>
<text x="508.3" y="434.7" font-size="16.6" textLength="57.4" lengthAdjust="spacingAndGlyphs" fill="#000">Monday</text>
<text x="519.6" y="458.7" font-size="18.4" textLength="39.2" lengthAdjust="spacingAndGlyphs" fill="#7a7a7a">26th</text>
<text x="643.3" y="434.7" font-size="16.6" textLength="62.4" lengthAdjust="spacingAndGlyphs" fill="#000">Tuesday</text>
<text x="656.1" y="458.7" font-size="18.4" textLength="39.2" lengthAdjust="spacingAndGlyphs" fill="#7a7a7a">27th</text>
<text x="766.7" y="434.7" font-size="16.6" textLength="86" lengthAdjust="spacingAndGlyphs" fill="#000">Wednesday</text>
<text x="792.6" y="458.7" font-size="18.4" textLength="39.2" lengthAdjust="spacingAndGlyphs" fill="#7a7a7a">28th</text>
<text x="913.9" y="434.7" font-size="16.6" textLength="68.7" lengthAdjust="spacingAndGlyphs" fill="#000">Thursday</text>
<text x="929.1" y="458.7" font-size="18.4" textLength="39.2" lengthAdjust="spacingAndGlyphs" fill="#7a7a7a">29th</text>
<text transform="translate(21,266.5) rotate(-90)" font-size="23.3" text-anchor="middle" fill="#000">Wave Height - Metres</text>
<text transform="translate(1059,264) rotate(90)" font-size="23.1" text-anchor="middle" fill="#000">Wind Speed - Knots</text>
<text x="893" y="401" font-size="11.2" fill="#a6a6a6" textLength="117.7" lengthAdjust="spacing">www.seabreeze.com.au</text>
</svg></body></html>
